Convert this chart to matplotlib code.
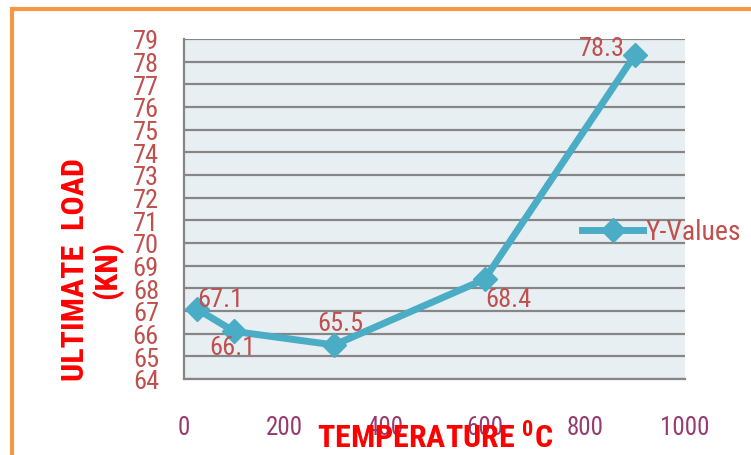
import numpy as np
import matplotlib.pyplot as plt
from matplotlib import font_manager
from matplotlib.patches import Rectangle
from matplotlib.lines import Line2D

# data
temps = [25, 100, 300, 600, 900]
loads = [67.1, 66.1, 65.5, 68.4, 78.3]
labels = ["67.1", "66.1", "65.5", "68.4", "78.3"]
label_offsets = [(17, 7), (-1, -11), (4, 16), (17, -14), (-24, 5)]
y_ticks = list(range(64, 80))
x_ticks = [0, 200, 400, 600, 800, 1000]

# prefer a narrow face (the original looks like a condensed Calibri)
names = {f.name for f in font_manager.fontManager.ttflist}
narrow = [n for n in ['Liberation Sans Narrow', 'Roboto Condensed',
                      'Open Sans Condensed', 'DejaVu Sans Condensed']
          if n in names]
plt.rcParams['font.family'] = narrow + ['Liberation Sans', 'DejaVu Sans']

W, H = 751, 456
fig = plt.figure(figsize=(W / 100, H / 100), dpi=100)
ax = fig.add_axes([184 / W, 1 - 380 / H, (685 - 184) / W, (380 - 40) / H])

line_col = '#4BACC6'
txt_col = '#C0504D'
tick_x_col = '#953B6F'

ax.set_facecolor('#E8EFF2')
ax.plot(temps, loads, color=line_col, lw=5, marker='D', ms=12,
        markeredgecolor=line_col, solid_joinstyle='round', zorder=3)

for x, y, s, off in zip(temps, loads, labels, label_offsets):
    ax.annotate(s, (x, y), xytext=off, textcoords='offset points',
                ha='center', va='center', color=txt_col, fontsize=19, zorder=4)

ax.set_xlim(0, 1000)
ax.set_ylim(64, 79)
ax.set_yticks(y_ticks)
ax.set_xticks(x_ticks)
ax.yaxis.grid(True, color='#868686', lw=1.6)
ax.set_axisbelow(True)
ax.tick_params(axis='y', length=0, pad=18, labelsize=19, labelcolor=txt_col)
ax.tick_params(axis='x', length=0, pad=26, labelsize=18, labelcolor=tick_x_col)
for sp in ['top', 'right']:
    ax.spines[sp].set_visible(False)
for sp in ['left', 'bottom']:
    ax.spines[sp].set_color('#868686')
    ax.spines[sp].set_linewidth(1.6)

fig.text(92 / W, 1 - 270 / H, "ULTIMATE  LOAD\n(KN)", rotation=90,
         ha='center', va='center', multialignment='center',
         color='#FF0000', fontsize=23, fontweight='bold', linespacing=1.05)
fig.text(435 / W, 1 - 438 / H, "TEMPERATURE $\\mathregular{^0}$C",
         ha='center', va='center', color='#FF0000', fontsize=23,
         fontweight='bold', zorder=5)

handle = Line2D([], [], color=line_col, lw=5, marker='D', ms=12)
leg = fig.legend([handle], ["Y-Values"], loc='center left',
                 bbox_to_anchor=(582 / W, 1 - 233 / H), frameon=False,
                 fontsize=20, handlelength=2.2, handletextpad=0.1,
                 borderaxespad=0, borderpad=0)
for t in leg.get_texts():
    t.set_color(txt_col)

# orange outer border
fig.patches.append(Rectangle((12 / W, -0.1), 1.2, 1.1 - 10 / H,
                             transform=fig.transFigure, fill=False,
                             edgecolor='#F79646', lw=3))

fig.savefig('out.png', dpi=100)
